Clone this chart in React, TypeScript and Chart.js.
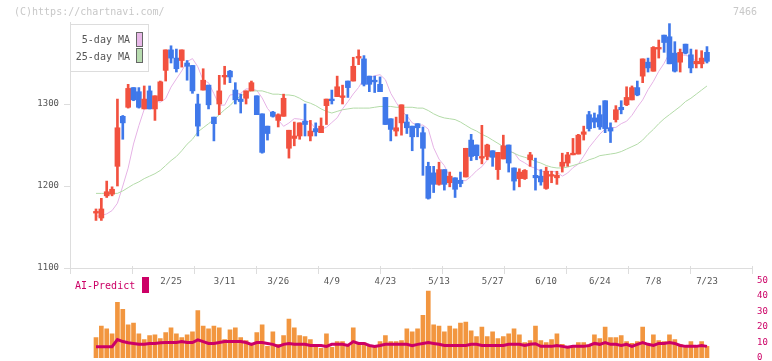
import React, { useEffect, useRef } from 'react';
import { Chart, registerables } from 'chart.js';

Chart.register(...registerables);

// ---- data ----
const OPEN = [
  1167, 1161, 1188, 1190, 1224, 1285, 1296, 1320, 1315, 1294,
  1316, 1294, 1304, 1341, 1366, 1356, 1353, 1350, 1347, 1300,
  1317, 1323, 1284, 1300, 1333, 1340, 1317, 1306, 1307, 1316,
  1310, 1288, 1273, 1290, 1280, 1285, 1246, 1258, 1261, 1279,
  1261, 1270, 1265, 1298, 1306, 1309, 1308, 1328, 1328, 1356,
  1355, 1334, 1329, 1324, 1308, 1282, 1267, 1277, 1278, 1273,
  1276, 1265, 1224, 1216, 1202, 1220, 1204, 1210, 1207, 1211,
  1256, 1250, 1234, 1236, 1243, 1220, 1233, 1250, 1222, 1209,
  1209, 1232, 1213, 1212, 1197, 1212, 1210, 1224, 1228, 1238,
  1239, 1263, 1287, 1283, 1287, 1304, 1271, 1281, 1296, 1299,
  1305, 1320, 1334, 1351, 1340, 1367, 1384, 1382, 1362, 1351,
  1373, 1360, 1349, 1349, 1363,
];
const HIGH = [
  1172, 1185, 1206, 1199, 1306, 1286, 1324, 1320, 1320, 1322,
  1322, 1310, 1328, 1366, 1371, 1367, 1366, 1353, 1347, 1312,
  1343, 1323, 1284, 1335, 1346, 1341, 1326, 1312, 1316, 1328,
  1310, 1288, 1273, 1291, 1288, 1312, 1268, 1278, 1277, 1300,
  1280, 1277, 1283, 1306, 1317, 1334, 1323, 1328, 1357, 1366,
  1359, 1334, 1334, 1333, 1308, 1282, 1284, 1299, 1287, 1273,
  1276, 1272, 1229, 1224, 1229, 1220, 1217, 1210, 1217, 1246,
  1263, 1250, 1274, 1251, 1243, 1241, 1262, 1250, 1222, 1221,
  1220, 1241, 1234, 1220, 1223, 1218, 1218, 1240, 1241, 1258,
  1263, 1273, 1291, 1289, 1298, 1304, 1277, 1298, 1304, 1321,
  1322, 1328, 1355, 1356, 1370, 1378, 1384, 1398, 1376, 1367,
  1373, 1367, 1366, 1365, 1370,
];
const LOW = [
  1158, 1158, 1186, 1188, 1200, 1257, 1295, 1304, 1295, 1294,
  1294, 1280, 1304, 1328, 1350, 1339, 1345, 1329, 1313, 1261,
  1317, 1294, 1255, 1287, 1324, 1326, 1300, 1289, 1300, 1316,
  1287, 1240, 1256, 1284, 1272, 1285, 1234, 1249, 1257, 1261,
  1255, 1261, 1265, 1275, 1300, 1309, 1300, 1308, 1328, 1348,
  1322, 1315, 1314, 1315, 1275, 1255, 1261, 1262, 1264, 1243,
  1260, 1213, 1184, 1192, 1201, 1195, 1199, 1186, 1199, 1211,
  1231, 1232, 1227, 1232, 1224, 1208, 1233, 1217, 1195, 1199,
  1208, 1224, 1195, 1201, 1196, 1204, 1202, 1217, 1224, 1238,
  1239, 1256, 1267, 1271, 1269, 1265, 1253, 1278, 1288, 1298,
  1305, 1310, 1326, 1339, 1340, 1356, 1363, 1349, 1339, 1339,
  1361, 1338, 1344, 1344, 1350,
];
const CLOSE = [
  1169, 1172, 1193, 1196, 1271, 1277, 1319, 1305, 1296, 1306,
  1294, 1310, 1327, 1366, 1356, 1343, 1366, 1346, 1316, 1273,
  1329, 1299, 1276, 1316, 1335, 1333, 1305, 1303, 1316, 1326,
  1287, 1241, 1264, 1285, 1287, 1307, 1268, 1261, 1277, 1275,
  1267, 1266, 1273, 1306, 1304, 1321, 1310, 1320, 1346, 1358,
  1324, 1324, 1327, 1315, 1275, 1269, 1271, 1299, 1271, 1260,
  1271, 1246, 1185, 1202, 1220, 1202, 1212, 1196, 1203, 1246,
  1236, 1237, 1236, 1250, 1235, 1241, 1249, 1228, 1206, 1217,
  1219, 1238, 1210, 1205, 1218, 1214, 1213, 1229, 1238, 1240,
  1262, 1266, 1270, 1278, 1272, 1270, 1267, 1293, 1293, 1308,
  1320, 1311, 1355, 1344, 1369, 1369, 1375, 1349, 1340, 1363,
  1362, 1344, 1352, 1356, 1352,
];
const MA5 = [
  1163, 1164, 1166, 1170, 1179, 1200, 1221.8, 1251.2, 1273.6, 1293.6,
  1300.6, 1304, 1302.2, 1306.6, 1320.6, 1330.6, 1340.4, 1351.6, 1355.4, 1345.4,
  1328.8, 1326, 1312.6, 1298.6, 1298.6, 1311, 1311.8, 1313, 1318.4, 1318.4,
  1316.6, 1307.4, 1294.6, 1286.8, 1280.6, 1272.8, 1276.8, 1282.2, 1281.6, 1280,
  1277.6, 1269.6, 1269.2, 1271.6, 1277.4, 1283.2, 1294, 1302.8, 1312.2, 1320.2,
  1331, 1331.6, 1334.4, 1335.8, 1329.6, 1313, 1302, 1291.4, 1285.8, 1277,
  1274, 1274.4, 1269.4, 1246.6, 1232.8, 1224.8, 1211, 1204.2, 1206.4, 1206.6,
  1211.8, 1218.6, 1223.6, 1231.6, 1241, 1238.8, 1239.8, 1242.2, 1240.6, 1231.8,
  1228.2, 1223.8, 1221.6, 1218, 1217.8, 1218, 1217, 1212, 1215.8, 1222.4,
  1226.8, 1236.4, 1247, 1255.2, 1263.2, 1269.6, 1271.2, 1271.4, 1276, 1279,
  1286.2, 1296.2, 1305, 1317.4, 1327.6, 1339.8, 1349.6, 1362.4, 1361.2, 1360.4,
  1359.2, 1357.8, 1351.6, 1352.2, 1355.4,
];
const MA25 = [
  1191, 1191, 1191, 1191, 1191, 1194, 1198, 1202, 1205, 1209,
  1212, 1215, 1219, 1225, 1231, 1236, 1243, 1251, 1257, 1266,
  1271, 1276, 1281, 1287, 1293, 1298, 1305, 1310, 1313, 1316,
  1316, 1316, 1314, 1312, 1312, 1311, 1311, 1310, 1307, 1303,
  1301, 1298, 1294, 1291, 1289, 1291, 1293, 1294, 1295, 1295,
  1295, 1295, 1296, 1297, 1297, 1297, 1296, 1296, 1296, 1296,
  1295, 1295, 1292, 1288, 1285, 1283, 1282, 1281, 1278, 1274,
  1270, 1267, 1263, 1260, 1256, 1252, 1248, 1243, 1240, 1237,
  1235, 1233, 1230, 1228, 1225, 1223, 1222, 1222, 1223, 1225,
  1227, 1229, 1232, 1234, 1237, 1238, 1239, 1240, 1242, 1245,
  1248, 1251, 1256, 1263, 1269, 1276, 1282, 1287, 1292, 1297,
  1303, 1307, 1312, 1317, 1322,
];
const VOLUME = [
  13.1, 20.6, 18.8, 15.6, 35.8, 31.3, 21.3, 22.5, 15.6, 11.9,
  14.4, 15, 12.5, 16.3, 19.4, 15.6, 13.1, 15, 16.9, 30.6,
  20.6, 18.8, 20.6, 19.4, 11.9, 18.1, 19.4, 13.1, 11.3, 8.1,
  16.3, 21.3, 7.5, 16.9, 8.8, 14.4, 25, 19.4, 14.4, 13.8,
  11.9, 6.9, 6.3, 15.6, 6.9, 10.6, 10.6, 7.5, 19.4, 10,
  10, 7.5, 7.5, 10.6, 14.4, 10.6, 10.6, 11.3, 18.8, 16.9,
  18.8, 27.5, 43.1, 21.3, 20.6, 16.9, 20.6, 18.8, 22.5, 23.1,
  17.5, 13.8, 20, 13.8, 16.9, 12.5, 13.8, 15.6, 18.8, 15,
  10, 11.3, 20.6, 11.3, 10, 11.9, 15.6, 8.8, 7.5, 7.5,
  10, 10, 7.5, 15, 12.5, 20, 13.1, 13.1, 14.4, 10.6,
  9.4, 10.6, 20, 8.8, 15, 11.3, 10.6, 15, 11.9, 8.8,
  7.5, 10.6, 7.5, 10.6, 7.5,
];
const AI_PREDICT = [
  7.3, 7.3, 7.3, 7.3, 11.9, 10.6, 9.8, 9.4, 8.8, 8.8,
  9.4, 9.4, 9.8, 10, 10, 10, 10.6, 10, 10, 11.7,
  10.6, 9.4, 9.4, 10, 10.6, 10.6, 10.6, 10.6, 10, 8.8,
  10, 10, 9.4, 8.8, 7.5, 8.8, 9.4, 8.8, 8.8, 8.8,
  8.1, 8.1, 8.1, 7.5, 8.8, 8.8, 8.8, 8.1, 10.6, 9.4,
  9.4, 8.1, 7.5, 8.1, 8.8, 8.8, 8.8, 8.8, 8.8, 7.9,
  8.8, 9.4, 10, 9.4, 8.8, 8.1, 8.1, 8.1, 8.1, 8.1,
  8.8, 8.8, 8.1, 8.1, 8.1, 8.1, 8.1, 8.8, 8.8, 8.8,
  8.1, 8.8, 9.2, 7.5, 7.5, 7.5, 8.1, 7.5, 6.9, 7.5,
  7.5, 7.5, 8.1, 9.4, 8.8, 10, 8.8, 8.8, 8.1, 8.8,
  7.5, 8.8, 10, 8.8, 8.1, 9.4, 9.4, 10, 9.4, 8.1,
  7.5, 7.5, 7.5, 8.1, 7.5,
];
const DATE_LABELS = ['2/25', '3/11', '3/26', '4/9', '4/23', '5/13', '5/27', '6/10', '6/24', '7/8', '7/23'];
const DATE_POS = [14, 24, 34, 44, 54, 64, 74, 84, 94, 104, 114];
const PRICE_TICKS = [1100, 1200, 1300];
const PRICE_MIN = 1100;
const PRICE_MAX = 1400;
const VOLUME_TICKS = [0, 10, 20, 30, 40, 50];
const VOLUME_MAX = 50;
const GRID_MARKS = [0, 1, 2, 3, 4, 5, 6, 7, 8, 9, 10, 11];

// ---- styling ----
const X_MIN = -4.85;
const X_MAX = 122.4;
const FONT = "'DejaVu Sans Mono', 'Liberation Mono', monospace";
const UP = '#f2513f';
const DOWN = '#3f78ea';
const AXIS = '#dddddd';
const MAGENTA = '#cc0066';

const candleColor = (i: number) => (CLOSE[i] >= OPEN[i] ? UP : DOWN);

export default function App() {
  const priceRef = useRef<HTMLCanvasElement | null>(null);
  const volRef = useRef<HTMLCanvasElement | null>(null);

  useEffect(() => {
    const idx = OPEN.map((_, i) => i);
    const price = new Chart(priceRef.current as HTMLCanvasElement, {
      type: 'bar',
      data: {
        datasets: [
          {
            type: 'line',
            label: '5-day MA',
            data: idx.map((i) => ({ x: i, y: MA5[i] })),
            borderColor: '#e6b3e6',
            borderWidth: 1,
            pointRadius: 0,
            xAxisID: 'x',
            yAxisID: 'y',
            order: 3,
          } as any,
          {
            type: 'line',
            label: '25-day MA',
            data: idx.map((i) => ({ x: i, y: MA25[i] })),
            borderColor: '#b3dba8',
            borderWidth: 1,
            pointRadius: 0,
            xAxisID: 'x',
            yAxisID: 'y',
            order: 2,
          } as any,
          {
            type: 'bar',
            label: 'range',
            data: idx.map((i) => ({ x: i, y: [LOW[i], HIGH[i]] })),
            backgroundColor: (ctx: any) => candleColor(ctx.dataIndex),
            barThickness: 2,
            grouped: false,
            borderWidth: 0,
            xAxisID: 'x',
            yAxisID: 'y',
            order: 1,
          } as any,
          {
            type: 'bar',
            label: 'body',
            data: idx.map((i) => ({ x: i, y: [OPEN[i], CLOSE[i]] })),
            backgroundColor: (ctx: any) => candleColor(ctx.dataIndex),
            barThickness: 5,
            grouped: false,
            borderWidth: 0,
            xAxisID: 'x',
            yAxisID: 'y',
            order: 0,
          } as any,
        ],
      },
      options: {
        responsive: false,
        animation: false,
        events: [],
        layout: { padding: { left: 0, right: 20, top: 22, bottom: 0 } },
        plugins: { legend: { display: false }, tooltip: { enabled: false } },
        scales: {
          x: {
            type: 'linear',
            axis: 'x',
            position: 'bottom',
            min: X_MIN,
            max: X_MAX,
            bounds: 'data',
            offset: false,
            grid: { display: false, drawTicks: false, offset: false },
            border: { display: true, color: AXIS, width: 1 },
            ticks: {
              autoSkip: false,
              maxRotation: 0,
              padding: 8,
              color: '#555555',
              font: { family: FONT, size: 9 },
              callback: (v: any) => {
                const k = DATE_POS.indexOf(Number(v));
                return k >= 0 ? DATE_LABELS[k] : '';
              },
            },
            afterBuildTicks: (s: any) => {
              s.ticks = DATE_POS.map((v) => ({ value: v }));
            },
            afterFit: (s: any) => {
              s.height = 32;
            },
          },
          xg: {
            type: 'linear',
            axis: 'x',
            position: { y: PRICE_MIN + 3 },
            min: 0,
            max: 11,
            bounds: 'data',
            offset: false,
            grid: { drawOnChartArea: false, drawTicks: true, tickLength: 8, color: AXIS, offset: false },
            border: { display: false },
            ticks: { display: false, stepSize: 1, maxTicksLimit: 30 },
            afterBuildTicks: (s: any) => {
              s.ticks = GRID_MARKS.map((v) => ({ value: v }));
            },
            afterFit: (s: any) => {
              s.height = 0;
            },
          },
          y: {
            type: 'linear',
            position: 'left',
            min: PRICE_MIN,
            max: PRICE_MAX,
            bounds: 'data',
            grid: { drawOnChartArea: false, drawTicks: true, tickLength: 6, color: AXIS },
            border: { display: true, color: AXIS },
            ticks: {
              padding: 5,
              color: '#555555',
              font: { family: FONT, size: 9 },
              callback: (v: any) => String(v),
            },
            afterBuildTicks: (s: any) => {
              s.ticks = PRICE_TICKS.map((v) => ({ value: v }));
            },
            afterFit: (s: any) => {
              s.width = 70;
            },
          },
        },
      } as any,
    });

    const vol = new Chart(volRef.current as HTMLCanvasElement, {
      type: 'bar',
      data: {
        datasets: [
          {
            type: 'line',
            label: 'AI-Predict',
            data: idx.map((i) => ({ x: i, y: AI_PREDICT[i] })),
            borderColor: MAGENTA,
            borderWidth: 3,
            pointRadius: 0,
            order: 0,
          } as any,
          {
            type: 'bar',
            label: 'Volume',
            data: idx.map((i) => ({ x: i, y: VOLUME[i] })),
            backgroundColor: '#f2963f',
            barThickness: 4,
            grouped: false,
            borderWidth: 0,
            order: 1,
          } as any,
        ],
      },
      options: {
        responsive: false,
        animation: false,
        events: [],
        layout: { padding: { left: 70, right: 0, top: 8, bottom: 12 } },
        plugins: { legend: { display: false }, tooltip: { enabled: false } },
        scales: {
          x: { type: 'linear', min: X_MIN, max: X_MAX, bounds: 'data', offset: false, grid: { offset: false }, display: false },
          y: {
            type: 'linear',
            position: 'right',
            min: 0,
            max: VOLUME_MAX,
            bounds: 'data',
            grid: { display: false, drawTicks: false },
            border: { display: false },
            ticks: { padding: 5, color: MAGENTA, font: { family: FONT, size: 9 }, callback: (v: any) => String(v) },
            afterBuildTicks: (s: any) => {
              s.ticks = VOLUME_TICKS.map((v) => ({ value: v }));
            },
            afterFit: (s: any) => {
              s.width = 20;
            },
          },
        },
      } as any,
    });

    return () => {
      price.destroy();
      vol.destroy();
    };
  }, []);

  const text: React.CSSProperties = { position: 'absolute', fontFamily: FONT, whiteSpace: 'nowrap', lineHeight: '12px' };

  return (
    <div style={{ position: 'fixed', left: 0, top: 0, width: 772, height: 361, overflow: 'hidden', background: '#ffffff' }}>
      <canvas ref={priceRef} width={772} height={300} style={{ position: 'absolute', left: 0, top: 0, width: 772, height: 300 }} />
      <canvas ref={volRef} width={772} height={100} style={{ position: 'absolute', left: 0, top: 270, width: 772, height: 100 }} />
      <div style={{ ...text, left: 14, top: 6, fontSize: 10, color: '#c8c8c8' }}>(C)https://chartnavi.com/</div>
      <div style={{ ...text, left: 733, top: 6, fontSize: 10, color: '#c8c8c8' }}>7466</div>
      <div style={{ position: 'absolute', left: 70, top: 24, width: 79, height: 48, boxSizing: 'border-box', border: '1px solid #dddddd', background: '#ffffff' }} />
      <div style={{ ...text, left: 0, width: 130, textAlign: 'right', top: 34, fontSize: 10, color: '#555555' }}>5-day MA</div>
      <div style={{ ...text, left: 0, width: 130, textAlign: 'right', top: 51, fontSize: 10, color: '#555555' }}>25-day MA</div>
      <div style={{ position: 'absolute', left: 136, top: 32, width: 7, height: 15, boxSizing: 'border-box', border: '1px solid #666666', background: '#e8b8e8' }} />
      <div style={{ position: 'absolute', left: 136, top: 48, width: 7, height: 15, boxSizing: 'border-box', border: '1px solid #666666', background: '#b8dcb0' }} />
      <div style={{ ...text, left: 75, top: 280, fontSize: 10, color: MAGENTA }}>AI-Predict</div>
      <div style={{ position: 'absolute', left: 142, top: 277, width: 7, height: 16, background: MAGENTA }} />
    </div>
  );
}
